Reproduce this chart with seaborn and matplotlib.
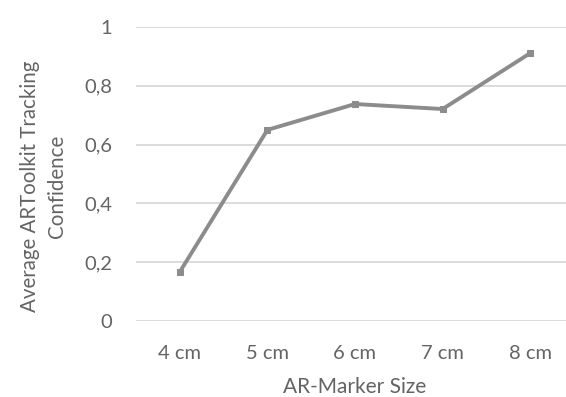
import matplotlib
matplotlib.use("Agg")
import matplotlib.pyplot as plt
import seaborn as sns
import pandas as pd

sizes = ["4 cm", "5 cm", "6 cm", "7 cm", "8 cm"]
confidence = [0.167, 0.65, 0.738, 0.721, 0.911]
y_ticks = [0, 0.2, 0.4, 0.6, 0.8, 1.0]
y_tick_labels = ["0", "0,2", "0,4", "0,6", "0,8", "1"]

sns.set_style("white")
plt.rcParams["font.family"] = ["Lato", "DejaVu Sans"]

text_color = "#646464"
df = pd.DataFrame({"size": sizes, "confidence": confidence})

fig = plt.figure(figsize=(5.66, 3.97), dpi=100)
ax = fig.add_axes([136 / 566, (397 - 321) / 397, 438 / 566, 294 / 397])

sns.lineplot(data=df, x="size", y="confidence", ax=ax, color="#8c8c8c",
             linewidth=2.8, marker="s", markersize=4.5,
             markeredgecolor="#8c8c8c", sort=False)

ax.set_xlim(-0.5, len(sizes) - 0.5)
ax.set_ylim(0, 1)
ax.set_yticks(y_ticks)
ax.set_yticklabels(y_tick_labels)
ax.yaxis.grid(True, color="#d9d9d9", linewidth=1.3)
ax.set_axisbelow(True)
for s in ax.spines.values():
    s.set_visible(False)
ax.tick_params(axis="both", length=0, labelsize=14.5, labelcolor=text_color)
ax.tick_params(axis="y", pad=17)
ax.tick_params(axis="x", pad=17)

ax.set_xlabel("AR-Marker Size", fontsize=15, color=text_color, labelpad=11)
ax.set_ylabel("Average ARToolkit Tracking\nConfidence", fontsize=14.8,
              color=text_color, linespacing=1.45)
ax.yaxis.set_label_coords(-0.158, 0.458)

fig.savefig("out.png", dpi=100)
